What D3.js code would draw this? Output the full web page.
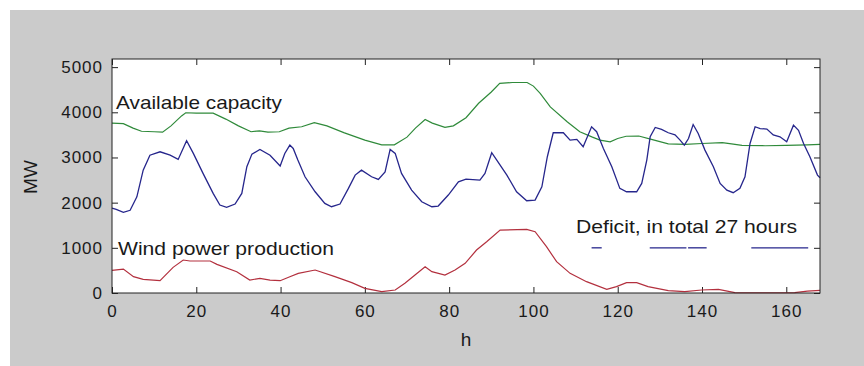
<!DOCTYPE html>
<html>
<head>
<meta charset="utf-8">
<script src="https://cdn.jsdelivr.net/npm/d3@7"></script>
<style>
  body { margin: 0; background: #ffffff; }
  svg { display: block; }
</style>
</head>
<body>
<div id="chart"></div>
<script>
// Available capacity (MW) as [hour, MW]
const capacity = [
  [0,3760],[2.7,3750],[5,3650],[7,3580],[10,3570],[12,3560],[14,3700],[16.5,3920],
  [17.5,3990],[20,3980],[24,3980],[27,3850],[30,3700],[33,3570],[35,3590],[37,3560],
  [39.7,3570],[42,3650],[45,3680],[48,3770],[51,3700],[55,3550],[58,3450],[60,3385],
  [64,3280],[67,3280],[70,3450],[72,3650],[74.3,3840],[76,3760],[79,3665],[81,3700],
  [84,3880],[87,4200],[90,4450],[92,4640],[95,4660],[98.5,4660],[100,4580],[101.6,4420],
  [104,4120],[108,3790],[111,3570],[114,3450],[115.8,3385],[118.2,3348],[120,3420],
  [122,3470],[125,3475],[128,3400],[132,3300],[136,3290],[140,3310],[144.8,3330],
  [147,3300],[149.5,3267],[155,3260],[160,3270],[165,3280],[168,3290]
];

// Load (MW)
const load = [
  [0,1880],[1,1850],[2.7,1785],[4.3,1830],[5.9,2130],[7.4,2720],[9,3050],[11.4,3126],
  [13.8,3050],[15.7,2957],[17.7,3370],[19.3,3090],[21.6,2648],[24,2205],[25.6,1947],
  [27.2,1895],[29.2,1970],[30.8,2205],[32,2795],[33.2,3075],[35.1,3178],[37.5,3050],
  [39.9,2810],[41,3090],[42.2,3274],[43,3200],[44.1,2942],[45.8,2573],[48.2,2241],
  [50.5,1984],[52.1,1910],[54.1,1970],[56.1,2316],[57.7,2610],[59.2,2720],[61.6,2573],
  [63.2,2515],[64.8,2680],[66,3178],[67.2,3090],[68.7,2648],[71.1,2278],[73.5,2020],
  [75.9,1910],[77.4,1925],[79.8,2168],[82.2,2462],[84,2520],[87.3,2500],[88.5,2648],
  [90.1,3105],[91.3,2942],[93.7,2610],[96,2241],[98.4,2042],[100.4,2057],[102,2352],
  [103.3,3016],[104.7,3547],[107.1,3547],[108.7,3385],[110.3,3400],[111.8,3237],
  [113.8,3680],[115,3570],[116.6,3200],[118.6,2795],[120.5,2316],[122.1,2241],
  [124.5,2241],[125.7,2425],[126.9,2942],[127.7,3458],[128.9,3665],[130.4,3620],
  [132,3547],[133.6,3500],[134.8,3385],[135.8,3274],[136.8,3420],[137.9,3730],
  [139.1,3530],[140.7,3163],[142.7,2795],[144.3,2425],[145.9,2278],[147.4,2220],
  [149,2316],[150.2,2573],[151.4,3310],[152.6,3680],[153.8,3640],[155.4,3630],
  [156.9,3500],[158.5,3458],[160.1,3350],[161.7,3716],[162.9,3600],[164.1,3310],
  [165.6,3016],[167.4,2610],[168,2550]
];

// Wind power production (MW)
const wind = [
  [0,500],[2.7,530],[5.1,361],[7.4,302],[11.4,272],[12.1,340],[14.5,568],[16.9,730],
  [18.5,708],[23.3,708],[24.9,634],[29.6,472],[32.7,287],[35.1,324],[37.5,287],
  [39.9,272],[42.2,361],[44.2,435],[48.2,509],[52.9,361],[56.9,229],[60,103],[64,30],
  [67.2,66],[69.5,214],[71.9,398],[74.3,583],[75.9,472],[79,398],[81.4,509],[83.8,656],
  [86.5,951],[88.9,1136],[92.1,1394],[98.4,1409],[100.4,1357],[103.1,1025],[105.5,693],
  [108.7,435],[112.6,251],[117.4,81],[119.7,140],[122.1,229],[124.5,229],[127.2,140],
  [132,52],[135.9,30],[139.9,66],[143.9,81],[147.8,10],[155,5],[162,10],[165,40],[168,60]
];

// Deficit hours, drawn as segments at 1000 MW
const deficitStart = [113.8, 127.6, 136.7, 151.7];
const deficitEnd   = [116.2, 136.3, 141.1, 165.2];
const deficitLevel = 1000;

const xTicks = [0, 20, 40, 60, 80, 100, 120, 140, 160];
const yTicks = [0, 1000, 2000, 3000, 4000, 5000];

// layout
const W = 864, H = 366;
const plot = {left: 112, right: 820, top: 59, bottom: 293};
const font = "'Liberation Sans', Arial, sans-serif";

const svg = d3.select("#chart").append("svg")
  .attr("width", W).attr("height", H);

// figure background (MATLAB grey)
svg.append("rect")
  .attr("x", 10).attr("y", 10)
  .attr("width", W - 10).attr("height", H - 10)
  .attr("fill", "#cbcbcb");

// axes background
svg.append("rect")
  .attr("x", plot.left).attr("y", plot.top)
  .attr("width", plot.right - plot.left).attr("height", plot.bottom - plot.top)
  .attr("fill", "#ffffff");

const x = d3.scaleLinear().domain([0, 168]).range([plot.left, plot.right]);
const y = d3.scaleLinear().domain([0, 5180]).range([plot.bottom, plot.top]);

// axes, ticks pointing inward
function styleAxis(g) {
  g.select(".domain").remove();
  g.selectAll(".tick line").attr("stroke", "#222");
  g.selectAll(".tick text")
    .attr("fill", "#1a1a1a")
    .style("font-family", font)
    .style("font-size", "17px")
    .style("letter-spacing", "1px");
}

svg.append("g")
  .attr("transform", "translate(0," + plot.bottom + ")")
  .call(d3.axisBottom(x).tickValues(xTicks).tickSizeInner(-6).tickSizeOuter(0).tickPadding(12).tickFormat(d3.format("d")))
  .call(styleAxis);

svg.append("g")
  .attr("transform", "translate(0," + plot.top + ")")
  .call(d3.axisTop(x).tickValues(xTicks).tickSizeInner(-6).tickSizeOuter(0).tickFormat(""))
  .call(styleAxis);

svg.append("g")
  .attr("transform", "translate(" + plot.left + ",0)")
  .call(d3.axisLeft(y).tickValues(yTicks).tickSizeInner(-6).tickSizeOuter(0).tickPadding(9).tickFormat(d3.format("d")))
  .call(styleAxis);

svg.append("g")
  .attr("transform", "translate(" + plot.right + ",0)")
  .call(d3.axisRight(y).tickValues(yTicks).tickSizeInner(-6).tickSizeOuter(0).tickFormat(""))
  .call(styleAxis);

// lines
const line = d3.line().x(d => x(d[0])).y(d => y(d[1]));

svg.append("path").datum(capacity)
  .attr("d", line).attr("fill", "none")
  .attr("stroke", "#2f8a3a").attr("stroke-width", 1.2);

svg.append("path").datum(load)
  .attr("d", line).attr("fill", "none")
  .attr("stroke", "#26268c").attr("stroke-width", 1.3);

svg.append("path").datum(wind)
  .attr("d", line).attr("fill", "none")
  .attr("stroke", "#b3303e").attr("stroke-width", 1.2);

// deficit segments
svg.selectAll(".deficit")
  .data(deficitStart)
  .enter()
  .append("line")
  .attr("class", "deficit")
  .attr("x1", d => x(d))
  .attr("x2", (d, i) => x(deficitEnd[i]))
  .attr("y1", y(deficitLevel))
  .attr("y2", y(deficitLevel))
  .attr("stroke", "#26268c")
  .attr("stroke-width", 1.3);

// box
svg.append("rect")
  .attr("x", plot.left).attr("y", plot.top)
  .attr("width", plot.right - plot.left).attr("height", plot.bottom - plot.top)
  .attr("fill", "none").attr("stroke", "#222").attr("stroke-width", 1);

// annotations
function label(txt, px, py, len) {
  svg.append("text")
    .attr("x", px).attr("y", py)
    .attr("textLength", len).attr("lengthAdjust", "spacingAndGlyphs")
    .style("font-family", font).style("font-size", "19px")
    .attr("fill", "#1a1a1a")
    .text(txt);
}
label("Available capacity", 116, 109, 166);
label("Wind power production", 118, 255, 216);
label("Deficit, in total 27 hours", 576, 233, 221);

// axis titles
svg.append("text")
  .attr("x", x(84)).attr("y", 346)
  .attr("text-anchor", "middle")
  .style("font-family", font).style("font-size", "19px")
  .attr("fill", "#1a1a1a")
  .text("h");

svg.append("text")
  .attr("transform", "translate(37,177) rotate(-90)")
  .attr("text-anchor", "middle")
  .style("font-family", font).style("font-size", "19px")
  .attr("fill", "#1a1a1a")
  .text("MW");
</script>
</body>
</html>
